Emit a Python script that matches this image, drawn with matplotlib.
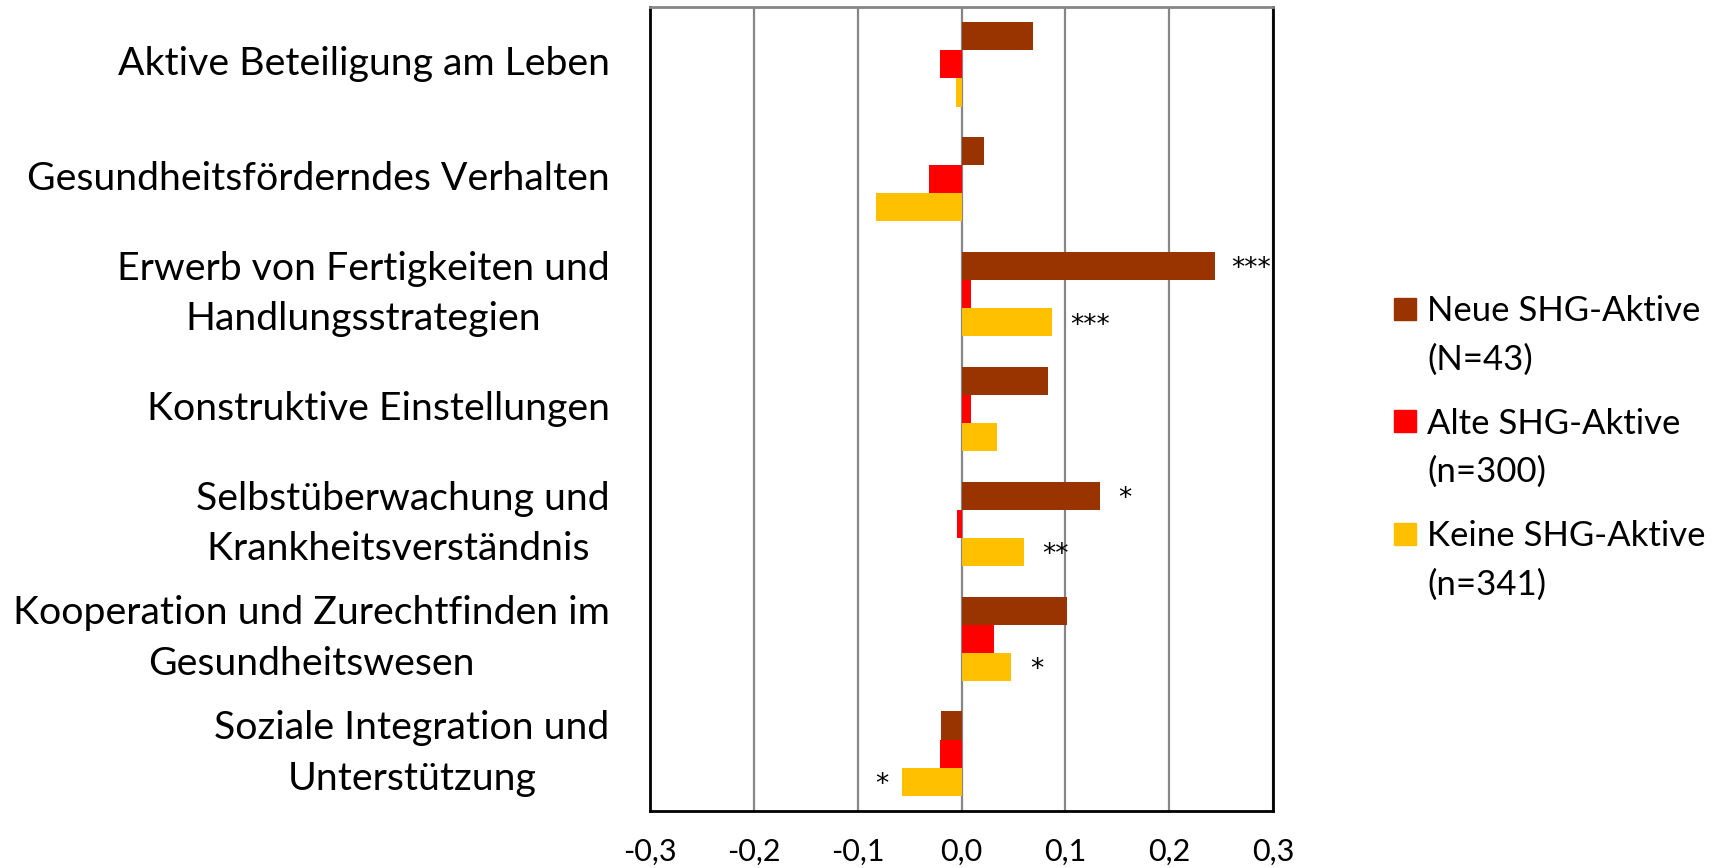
import numpy as np
import matplotlib.pyplot as plt
from matplotlib.patches import Rectangle

plt.rcParams['font.family'] = ['Lato', 'DejaVu Sans']

categories = ['Aktive Beteiligung am Leben',
              'Gesundheitsförderndes Verhalten',
              'Erwerb von Fertigkeiten und\nHandlungsstrategien',
              'Konstruktive Einstellungen',
              'Selbstüberwachung und\nKrankheitsverständnis ',
              'Kooperation und Zurechtfinden im\nGesundheitswesen',
              'Soziale Integration und\nUnterstützung']

series = ['Neue SHG-Aktive\n(N=43)', 'Alte SHG-Aktive\n(n=300)', 'Keine SHG-Aktive\n(n=341)']
colors = ['#993300', '#FF0000', '#FFC000']

neue = [0.069, 0.022, 0.244, 0.083, 0.133, 0.102, -0.020]
alte = [-0.021, -0.031, 0.009, 0.009, -0.004, 0.031, -0.021]
keine = [-0.005, -0.082, 0.087, 0.034, 0.060, 0.048, -0.057]

# significance stars: (category index, series index, x position, text)
stars = [(2, 0, 0.260, '***'), (2, 2, 0.105, '***'),
         (4, 0, 0.151, '*'), (4, 2, 0.078, '**'),
         (5, 2, 0.066, '*'), (6, 2, -0.083, '*')]

xticks = [-0.3, -0.2, -0.1, 0.0, 0.1, 0.2, 0.3]

fig = plt.figure(figsize=(17.25, 8.68), dpi=100)
ax = fig.add_axes([650/1725, 1 - 811/868, (1273 - 650)/1725, (811 - 7)/868])

y = np.arange(len(categories))
h = 0.245
offsets = [-h, 0, h]
for vals, col, off in zip([neue, alte, keine], colors, offsets):
    ax.barh(y + off, vals, height=h, color=col, zorder=3)

for ci, si, xpos, txt in stars:
    ax.text(xpos, y[ci] + offsets[si] + 0.03, txt, fontsize=19, ha='left', va='center',
            family='DejaVu Sans', zorder=4)

ax.set_xlim(-0.3, 0.3)
ax.set_ylim(len(categories) - 0.5, -0.5)
ax.set_xticks(xticks)
ax.set_xticklabels([('%.1f' % t).replace('.', ',') for t in xticks], fontsize=22)
ax.set_yticks(y)
ax.set_yticklabels(categories, fontsize=28.3, multialignment='center', linespacing=1.5,
                   va='center')
ax.tick_params(axis='x', length=0, pad=19)
ax.tick_params(axis='y', length=0, pad=29)

ax.grid(axis='x', color='#868686', linewidth=1.6, zorder=1)
for side in ['left', 'bottom', 'right']:
    ax.spines[side].set_linewidth(2)
    ax.spines[side].set_color('black')
ax.spines['top'].set_linewidth(2)
ax.spines['top'].set_color('#868686')

# legend with the marker next to the first line of each label
for i, (lab, col) in enumerate(zip(series, colors)):
    yc = 1 - (309 + i * 112.5) / 868
    fig.patches.append(Rectangle((1394/1725, yc - 11/868), 22/1725, 22/868,
                                 transform=fig.transFigure, color=col))
    fig.text(1427/1725, yc + 14/868, lab, fontsize=25, ha='left', va='top', linespacing=1.62)

plt.savefig('out.png', dpi=100)
